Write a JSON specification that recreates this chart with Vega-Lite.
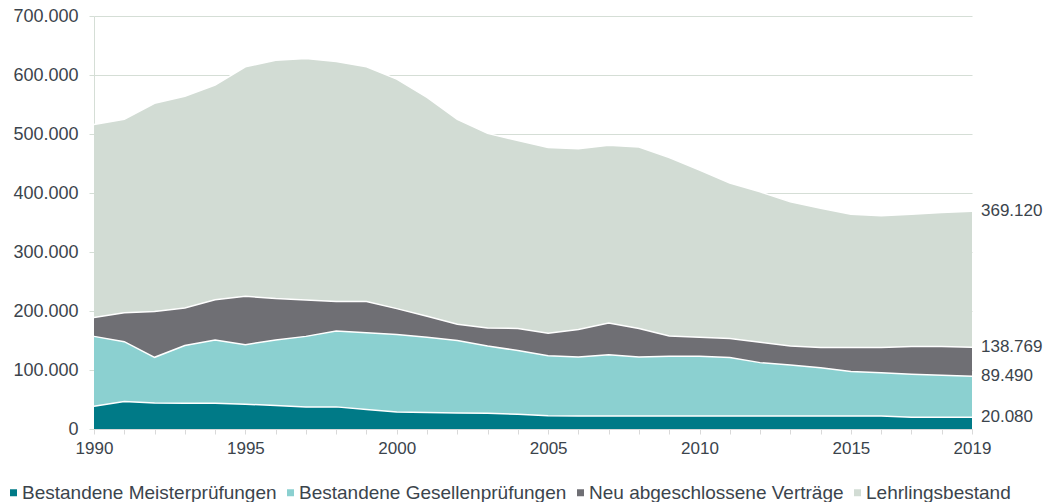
{
  "$schema": "https://vega.github.io/schema/vega-lite/v6.json",
  "width": 878,
  "height": 413,
  "autosize": {"type": "none"},
  "padding": {"left": 94, "top": 16, "right": 76, "bottom": 73},
  "background": "white",
  "config": {
    "locale": {"number": {"decimal": ",", "thousands": ".", "grouping": [3], "currency": ["", " €"]}},
    "view": {"stroke": null},
    "font": "Liberation Sans",
    "axis": {"labelFont": "Liberation Sans", "labelColor": "#3B444C", "title": null}
  },
  "data": {
    "values": [
      {"year":1990,"series":"Lehrlingsbestand","value":516000},
      {"year":1991,"series":"Lehrlingsbestand","value":525000},
      {"year":1992,"series":"Lehrlingsbestand","value":552000},
      {"year":1993,"series":"Lehrlingsbestand","value":564000},
      {"year":1994,"series":"Lehrlingsbestand","value":583000},
      {"year":1995,"series":"Lehrlingsbestand","value":614000},
      {"year":1996,"series":"Lehrlingsbestand","value":625000},
      {"year":1997,"series":"Lehrlingsbestand","value":628000},
      {"year":1998,"series":"Lehrlingsbestand","value":623000},
      {"year":1999,"series":"Lehrlingsbestand","value":614000},
      {"year":2000,"series":"Lehrlingsbestand","value":593000},
      {"year":2001,"series":"Lehrlingsbestand","value":562000},
      {"year":2002,"series":"Lehrlingsbestand","value":525000},
      {"year":2003,"series":"Lehrlingsbestand","value":501000},
      {"year":2004,"series":"Lehrlingsbestand","value":489000},
      {"year":2005,"series":"Lehrlingsbestand","value":477000},
      {"year":2006,"series":"Lehrlingsbestand","value":475000},
      {"year":2007,"series":"Lehrlingsbestand","value":481000},
      {"year":2008,"series":"Lehrlingsbestand","value":478000},
      {"year":2009,"series":"Lehrlingsbestand","value":460000},
      {"year":2010,"series":"Lehrlingsbestand","value":439000},
      {"year":2011,"series":"Lehrlingsbestand","value":417000},
      {"year":2012,"series":"Lehrlingsbestand","value":402000},
      {"year":2013,"series":"Lehrlingsbestand","value":385000},
      {"year":2014,"series":"Lehrlingsbestand","value":374000},
      {"year":2015,"series":"Lehrlingsbestand","value":364000},
      {"year":2016,"series":"Lehrlingsbestand","value":361500},
      {"year":2017,"series":"Lehrlingsbestand","value":364000},
      {"year":2018,"series":"Lehrlingsbestand","value":367000},
      {"year":2019,"series":"Lehrlingsbestand","value":369120},
      {"year":1990,"series":"Neu abgeschlossene Verträge","value":189000},
      {"year":1991,"series":"Neu abgeschlossene Verträge","value":197000},
      {"year":1992,"series":"Neu abgeschlossene Verträge","value":199000},
      {"year":1993,"series":"Neu abgeschlossene Verträge","value":205000},
      {"year":1994,"series":"Neu abgeschlossene Verträge","value":219000},
      {"year":1995,"series":"Neu abgeschlossene Verträge","value":225000},
      {"year":1996,"series":"Neu abgeschlossene Verträge","value":221000},
      {"year":1997,"series":"Neu abgeschlossene Verträge","value":218500},
      {"year":1998,"series":"Neu abgeschlossene Verträge","value":216000},
      {"year":1999,"series":"Neu abgeschlossene Verträge","value":216000},
      {"year":2000,"series":"Neu abgeschlossene Verträge","value":204000},
      {"year":2001,"series":"Neu abgeschlossene Verträge","value":191000},
      {"year":2002,"series":"Neu abgeschlossene Verträge","value":177500},
      {"year":2003,"series":"Neu abgeschlossene Verträge","value":171000},
      {"year":2004,"series":"Neu abgeschlossene Verträge","value":170500},
      {"year":2005,"series":"Neu abgeschlossene Verträge","value":162500},
      {"year":2006,"series":"Neu abgeschlossene Verträge","value":168500},
      {"year":2007,"series":"Neu abgeschlossene Verträge","value":179500},
      {"year":2008,"series":"Neu abgeschlossene Verträge","value":170500},
      {"year":2009,"series":"Neu abgeschlossene Verträge","value":157500},
      {"year":2010,"series":"Neu abgeschlossene Verträge","value":155500},
      {"year":2011,"series":"Neu abgeschlossene Verträge","value":153500},
      {"year":2012,"series":"Neu abgeschlossene Verträge","value":147000},
      {"year":2013,"series":"Neu abgeschlossene Verträge","value":140500},
      {"year":2014,"series":"Neu abgeschlossene Verträge","value":138000},
      {"year":2015,"series":"Neu abgeschlossene Verträge","value":138000},
      {"year":2016,"series":"Neu abgeschlossene Verträge","value":138000},
      {"year":2017,"series":"Neu abgeschlossene Verträge","value":140000},
      {"year":2018,"series":"Neu abgeschlossene Verträge","value":140000},
      {"year":2019,"series":"Neu abgeschlossene Verträge","value":138769},
      {"year":1990,"series":"Bestandene Gesellenprüfungen","value":157000},
      {"year":1991,"series":"Bestandene Gesellenprüfungen","value":148000},
      {"year":1992,"series":"Bestandene Gesellenprüfungen","value":121500},
      {"year":1993,"series":"Bestandene Gesellenprüfungen","value":141500},
      {"year":1994,"series":"Bestandene Gesellenprüfungen","value":151000},
      {"year":1995,"series":"Bestandene Gesellenprüfungen","value":143000},
      {"year":1996,"series":"Bestandene Gesellenprüfungen","value":151000},
      {"year":1997,"series":"Bestandene Gesellenprüfungen","value":157000},
      {"year":1998,"series":"Bestandene Gesellenprüfungen","value":166000},
      {"year":1999,"series":"Bestandene Gesellenprüfungen","value":163000},
      {"year":2000,"series":"Bestandene Gesellenprüfungen","value":160000},
      {"year":2001,"series":"Bestandene Gesellenprüfungen","value":155500},
      {"year":2002,"series":"Bestandene Gesellenprüfungen","value":150000},
      {"year":2003,"series":"Bestandene Gesellenprüfungen","value":140500},
      {"year":2004,"series":"Bestandene Gesellenprüfungen","value":133000},
      {"year":2005,"series":"Bestandene Gesellenprüfungen","value":124000},
      {"year":2006,"series":"Bestandene Gesellenprüfungen","value":122000},
      {"year":2007,"series":"Bestandene Gesellenprüfungen","value":126000},
      {"year":2008,"series":"Bestandene Gesellenprüfungen","value":122000},
      {"year":2009,"series":"Bestandene Gesellenprüfungen","value":123500},
      {"year":2010,"series":"Bestandene Gesellenprüfungen","value":123500},
      {"year":2011,"series":"Bestandene Gesellenprüfungen","value":121000},
      {"year":2012,"series":"Bestandene Gesellenprüfungen","value":112500},
      {"year":2013,"series":"Bestandene Gesellenprüfungen","value":108500},
      {"year":2014,"series":"Bestandene Gesellenprüfungen","value":104000},
      {"year":2015,"series":"Bestandene Gesellenprüfungen","value":97500},
      {"year":2016,"series":"Bestandene Gesellenprüfungen","value":95500},
      {"year":2017,"series":"Bestandene Gesellenprüfungen","value":93000},
      {"year":2018,"series":"Bestandene Gesellenprüfungen","value":91000},
      {"year":2019,"series":"Bestandene Gesellenprüfungen","value":89490},
      {"year":1990,"series":"Bestandene Meisterprüfungen","value":38500},
      {"year":1991,"series":"Bestandene Meisterprüfungen","value":46500},
      {"year":1992,"series":"Bestandene Meisterprüfungen","value":44000},
      {"year":1993,"series":"Bestandene Meisterprüfungen","value":43500},
      {"year":1994,"series":"Bestandene Meisterprüfungen","value":43500},
      {"year":1995,"series":"Bestandene Meisterprüfungen","value":42000},
      {"year":1996,"series":"Bestandene Meisterprüfungen","value":40000},
      {"year":1997,"series":"Bestandene Meisterprüfungen","value":37500},
      {"year":1998,"series":"Bestandene Meisterprüfungen","value":37500},
      {"year":1999,"series":"Bestandene Meisterprüfungen","value":33000},
      {"year":2000,"series":"Bestandene Meisterprüfungen","value":29000},
      {"year":2001,"series":"Bestandene Meisterprüfungen","value":28000},
      {"year":2002,"series":"Bestandene Meisterprüfungen","value":27000},
      {"year":2003,"series":"Bestandene Meisterprüfungen","value":26500},
      {"year":2004,"series":"Bestandene Meisterprüfungen","value":25000},
      {"year":2005,"series":"Bestandene Meisterprüfungen","value":22500},
      {"year":2006,"series":"Bestandene Meisterprüfungen","value":22000},
      {"year":2007,"series":"Bestandene Meisterprüfungen","value":22000},
      {"year":2008,"series":"Bestandene Meisterprüfungen","value":22000},
      {"year":2009,"series":"Bestandene Meisterprüfungen","value":22000},
      {"year":2010,"series":"Bestandene Meisterprüfungen","value":22000},
      {"year":2011,"series":"Bestandene Meisterprüfungen","value":22000},
      {"year":2012,"series":"Bestandene Meisterprüfungen","value":22000},
      {"year":2013,"series":"Bestandene Meisterprüfungen","value":22000},
      {"year":2014,"series":"Bestandene Meisterprüfungen","value":22000},
      {"year":2015,"series":"Bestandene Meisterprüfungen","value":22000},
      {"year":2016,"series":"Bestandene Meisterprüfungen","value":22000},
      {"year":2017,"series":"Bestandene Meisterprüfungen","value":20000},
      {"year":2018,"series":"Bestandene Meisterprüfungen","value":20000},
      {"year":2019,"series":"Bestandene Meisterprüfungen","value":20080}
    ]
  },
  "encoding": {
    "x": {
      "field": "year", "type": "quantitative",
      "scale": {"domain": [1990, 2019], "nice": false, "zero": false},
      "axis": {
        "values": [1990,1991,1992,1993,1994,1995,1996,1997,1998,1999,2000,2001,2002,2003,2004,2005,2006,2007,2008,2009,2010,2011,2012,2013,2014,2015,2016,2017,2018,2019],
        "format": "d",
        "labelExpr": "indexof([1990,1995,2000,2005,2010,2015,2019], datum.value) >= 0 ? datum.label : ''",
        "labelOverlap": false, "labelFlush": false, "labelFontSize": 17, "labelPadding": 6,
        "domainColor": "#D9D9D9", "tickColor": "#D9D9D9", "tickSize": 5, "grid": false
      }
    },
    "y": {
      "field": "value", "type": "quantitative",
      "scale": {"domain": [0, 700000], "nice": false},
      "axis": {
        "values": [0,100000,200000,300000,400000,500000,600000,700000],
        "format": ",d", "labelFontSize": 18, "labelPadding": 11,
        "domainColor": "#D5DED6", "tickColor": "#D5DED6", "tickSize": 5,
        "grid": true, "gridColor": "#D5DED6", "gridWidth": 1.2
      }
    }
  },
  "layer": [
    {"transform": [{"filter": "datum.series === 'Lehrlingsbestand'"}], "mark": {"type": "area", "opacity": 1},
     "encoding": {"color": {"field": "series", "type": "nominal",
       "scale": {"domain": ["Bestandene Meisterprüfungen","Bestandene Gesellenprüfungen","Neu abgeschlossene Verträge","Lehrlingsbestand"],
                 "range": ["#007A87","#8BD0D0","#6F6F74","#D2DCD4"]},
       "legend": {"orient": "none", "legendX": -90, "legendY": 467, "direction": "horizontal", "title": null,
                  "symbolType": "square", "symbolSize": 49, "symbolStrokeWidth": 0, "labelFontSize": 19, "labelLimit": 0,
                  "labelFont": "Liberation Sans", "labelColor": "#3B444C", "columnPadding": 4, "labelOffset": -1}}}},
    {"transform": [{"filter": "datum.series === 'Lehrlingsbestand'"}], "mark": {"type": "line", "color": "white", "strokeWidth": 1.5}, "encoding": {}},
    {"transform": [{"filter": "datum.series === 'Neu abgeschlossene Verträge'"}], "mark": {"type": "area", "opacity": 1},
     "encoding": {"color": {"field": "series", "type": "nominal"}}},
    {"transform": [{"filter": "datum.series === 'Neu abgeschlossene Verträge'"}], "mark": {"type": "line", "color": "white", "strokeWidth": 1.5}, "encoding": {}},
    {"transform": [{"filter": "datum.series === 'Bestandene Gesellenprüfungen'"}], "mark": {"type": "area", "opacity": 1},
     "encoding": {"color": {"field": "series", "type": "nominal"}}},
    {"transform": [{"filter": "datum.series === 'Bestandene Gesellenprüfungen'"}], "mark": {"type": "line", "color": "white", "strokeWidth": 1.5}, "encoding": {}},
    {"transform": [{"filter": "datum.series === 'Bestandene Meisterprüfungen'"}], "mark": {"type": "area", "opacity": 1},
     "encoding": {"color": {"field": "series", "type": "nominal"}}},
    {"transform": [{"filter": "datum.series === 'Bestandene Meisterprüfungen'"}], "mark": {"type": "line", "color": "white", "strokeWidth": 1.5}, "encoding": {}},
    {"transform": [{"filter": "datum.year === 2019"}],
     "mark": {"type": "text", "align": "left", "baseline": "middle", "dx": 9, "dy": 0, "fontSize": 17, "font": "Liberation Sans", "color": "#3B444C"},
     "encoding": {"text": {"field": "value", "type": "quantitative", "format": ",d"}}}
  ]
}
